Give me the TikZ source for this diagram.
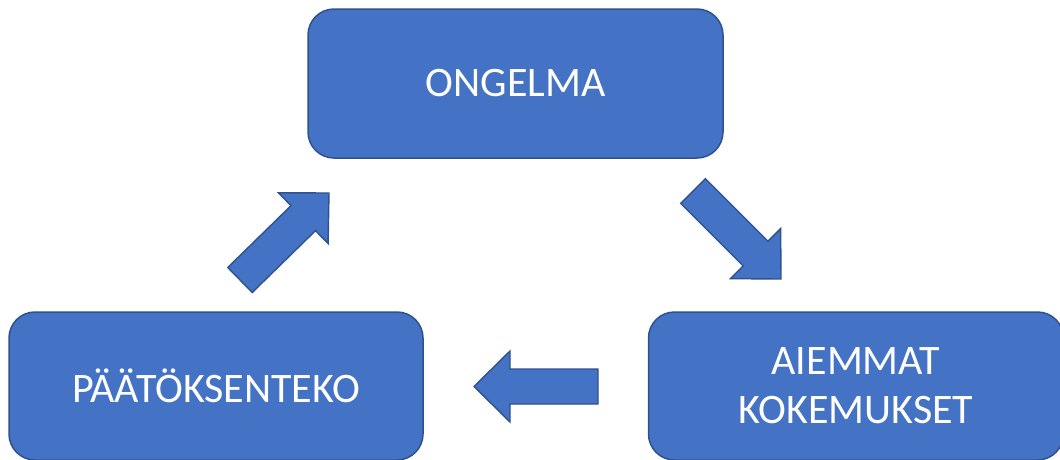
\documentclass[tikz,border=0pt]{standalone}
\usepackage{fontspec}
\setmainfont{Carlito}
\usetikzlibrary{calc}

\definecolor{boxfill}{HTML}{4472C4}
\definecolor{boxline}{HTML}{2F528F}

\tikzset{
  stagebox/.style={draw=boxline, line width=1.5pt, fill=boxfill,
    rounded corners=26pt, text=white, align=center,
    font=\fontsize{42}{49}\selectfont, inner sep=0pt},
  flowshape/.style={draw=boxline, line width=1.4pt, fill=boxfill, line join=miter}
}

% Block arrow from tail point #1 to tip #2 (shaft 35 wide, head 71 wide, 36 long)
\newcommand\flowarrow[2]{%
  \draw[flowshape]
    ($(#1)!17.5pt!90:(#2)$) --
    ($($(#2)!36pt!(#1)$)!17.5pt!90:(#2)$) --
    ($($(#2)!36pt!(#1)$)!35.5pt!90:(#2)$) --
    (#2) --
    ($($(#2)!36pt!(#1)$)!35.5pt!-90:(#2)$) --
    ($($(#2)!36pt!(#1)$)!17.5pt!-90:(#2)$) --
    ($(#1)!17.5pt!-90:(#2)$) -- cycle;%
}

\begin{document}
\begin{tikzpicture}[x=1pt, y=-1pt]
  \useasboundingbox (0,0) rectangle (1060,459);

  \node[stagebox, minimum width=415pt, minimum height=149pt] (ongelma)
    at (515.5,83.5) {ONGELMA};
  \node[stagebox, minimum width=414pt, minimum height=148pt] (paatos)
    at (216,386) {PÄÄTÖKSENTEKO};
  \node[stagebox, minimum width=415pt, minimum height=148pt] (aiemmat)
    at (856,386) {AIEMMAT\\KOKEMUKSET};

  % arrow end points
  \coordinate (upTail)    at (240,280);
  \coordinate (upTip)     at (329,193);
  \coordinate (downTail)  at (693,191);
  \coordinate (downTip)   at (781,279);
  \coordinate (leftTail)  at (598,386.5);
  \coordinate (leftTip)   at (474,386.5);

  \flowarrow{upTail}{upTip}
  \flowarrow{downTail}{downTip}
  \flowarrow{leftTail}{leftTip}
\end{tikzpicture}
\end{document}
